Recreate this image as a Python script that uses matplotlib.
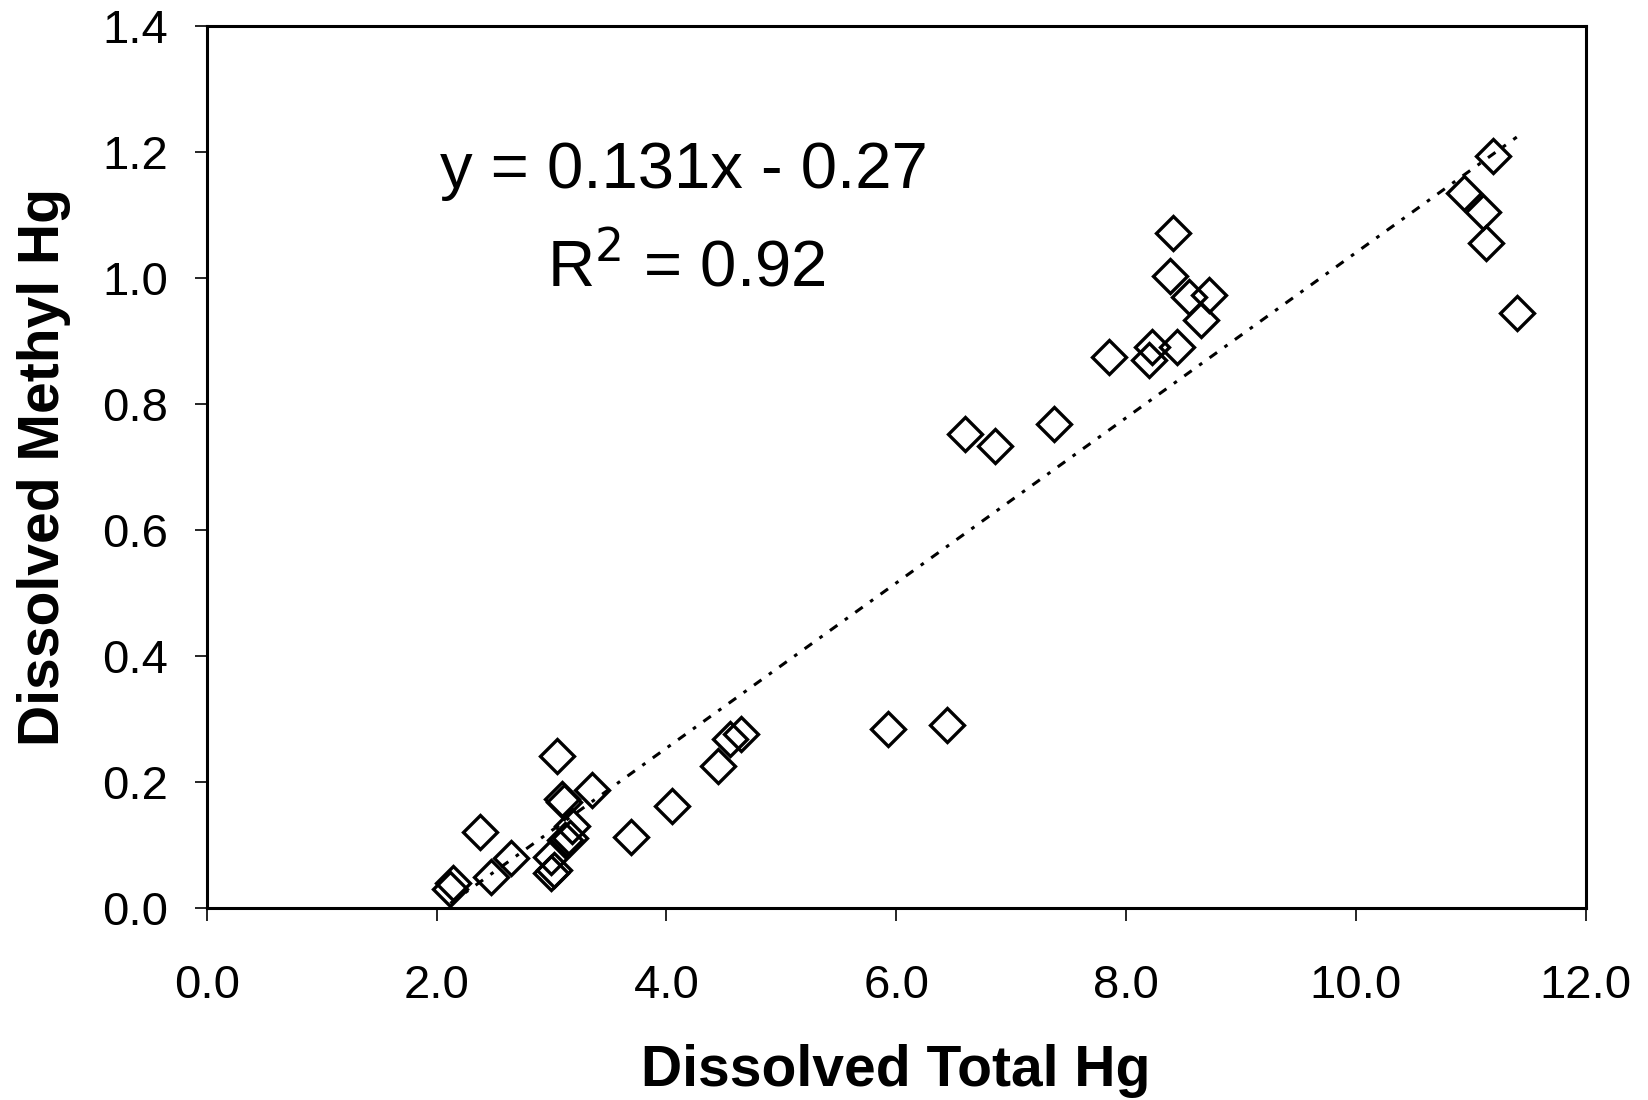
import matplotlib
matplotlib.use("Agg")
import matplotlib.pyplot as plt
import numpy as np

plt.rcParams['font.family'] = ['Liberation Sans', 'DejaVu Sans']

total_hg = [2.12, 2.14, 2.38, 2.47, 2.65, 3.00, 3.00, 3.02, 3.05, 3.09, 3.11,
            3.12, 3.16, 3.18, 3.35, 3.69, 4.05, 4.45, 4.55, 4.65, 5.93, 6.44,
            6.60, 6.86, 7.37, 7.85, 8.20, 8.23, 8.38, 8.41, 8.44, 8.55, 8.65,
            8.72, 10.94, 11.11, 11.13, 11.19, 11.40]
methyl_hg = [0.030, 0.040, 0.121, 0.050, 0.079, 0.082, 0.056, 0.060, 0.241, 0.174, 0.168,
             0.108, 0.111, 0.131, 0.188, 0.113, 0.162, 0.226, 0.268, 0.277, 0.285, 0.290,
             0.753, 0.733, 0.768, 0.875, 0.870, 0.891, 1.003, 1.071, 0.890, 0.969, 0.933,
             0.973, 1.135, 1.105, 1.055, 1.194, 0.944]

slope = 0.131
intercept = -0.27
eq_text = "y = 0.131x - 0.27"
r2_text = "R$^2$ = 0.92"

x_ticks = [0, 2, 4, 6, 8, 10, 12]
y_ticks = [0.0, 0.2, 0.4, 0.6, 0.8, 1.0, 1.2, 1.4]

fig = plt.figure(figsize=(16.48, 11.0), dpi=100)
ax = fig.add_axes([0.1254, 0.1743, 0.8368, 0.8023])

xs = np.array([min(total_hg), max(total_hg)])
ax.plot(xs, slope * xs + intercept, color='black', lw=2.2,
        linestyle=(0, (3, 3, 1.2, 3)), zorder=1)
ax.plot(total_hg, methyl_hg, linestyle='none', marker='D', markersize=17,
        markerfacecolor='none', markeredgecolor='black', markeredgewidth=2.4, zorder=2)

ax.set_xlim(0, 12)
ax.set_ylim(0, 1.4)
ax.set_xticks(x_ticks)
ax.set_xticklabels([f"{v:.1f}" for v in x_ticks])
ax.set_yticks(y_ticks)
ax.set_yticklabels([f"{v:.1f}" for v in y_ticks])
ax.tick_params(axis='both', direction='out', length=9, width=1.2, labelsize=34)
ax.tick_params(axis='x', pad=31)
ax.tick_params(axis='y', pad=19)
for s in ax.spines.values():
    s.set_linewidth(2.2)

ax.set_xlabel("Dissolved Total Hg", fontsize=41, fontweight='bold', labelpad=26)
ax.set_ylabel("Dissolved Methyl Hg", fontsize=41, fontweight='bold', labelpad=22)

ax.text(4.15, 1.17, eq_text, fontsize=47, ha='center', va='center')
ax.text(4.17, 1.017, r2_text, fontsize=47, ha='center', va='center')

fig.savefig("out.png", dpi=100)
